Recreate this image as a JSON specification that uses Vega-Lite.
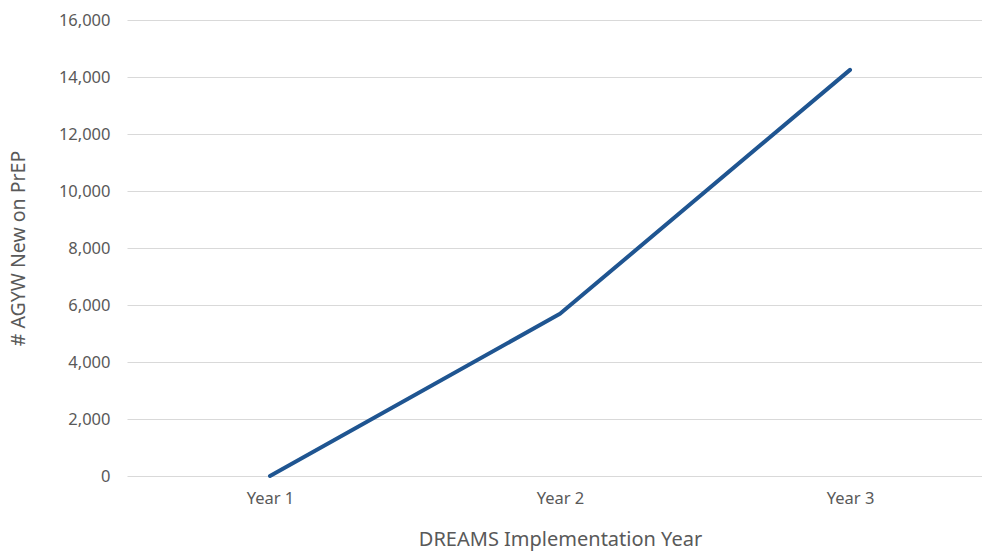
{
  "$schema": "https://vega.github.io/schema/vega-lite/v6.json",
  "autosize": "none",
  "padding": {"left": 127, "top": 20, "right": 0, "bottom": 77},
  "width": 866,
  "height": 456,
  "background": "white",
  "config": {
    "view": {"stroke": null},
    "font": "Noto Sans"
  },
  "data": {
    "values": [
      {"year": "Year 1", "value": 0},
      {"year": "Year 2", "value": 5690},
      {"year": "Year 3", "value": 14250}
    ]
  },
  "mark": {"type": "line", "color": "#1f5591", "strokeWidth": 4, "strokeCap": "round", "strokeJoin": "round"},
  "encoding": {
    "x": {
      "field": "year",
      "type": "ordinal",
      "sort": null,
      "scale": {"type": "point", "padding": 0.493},
      "axis": {
        "title": "DREAMS Implementation Year",
        "titleFontSize": 20,
        "titleFontWeight": "normal",
        "titleColor": "#595959",
        "titlePadding": 23,
        "labelAngle": 0,
        "labelFontSize": 16.5,
        "labelColor": "#595959",
        "labelPadding": 14,
        "domain": false,
        "ticks": false,
        "grid": false
      }
    },
    "y": {
      "field": "value",
      "type": "quantitative",
      "scale": {"domain": [0, 16000], "nice": false},
      "axis": {
        "title": "# AGYW New on PrEP",
        "titleFontSize": 19.5,
        "titleFontWeight": "normal",
        "titleColor": "#595959",
        "titlePadding": 30,
        "values": [0, 2000, 4000, 6000, 8000, 10000, 12000, 14000, 16000],
        "format": ",.0f",
        "labelFontSize": 16.5,
        "labelColor": "#595959",
        "labelPadding": 17,
        "domain": false,
        "ticks": false,
        "grid": true,
        "gridColor": "#d9d9d9",
        "gridWidth": 1
      }
    }
  }
}
